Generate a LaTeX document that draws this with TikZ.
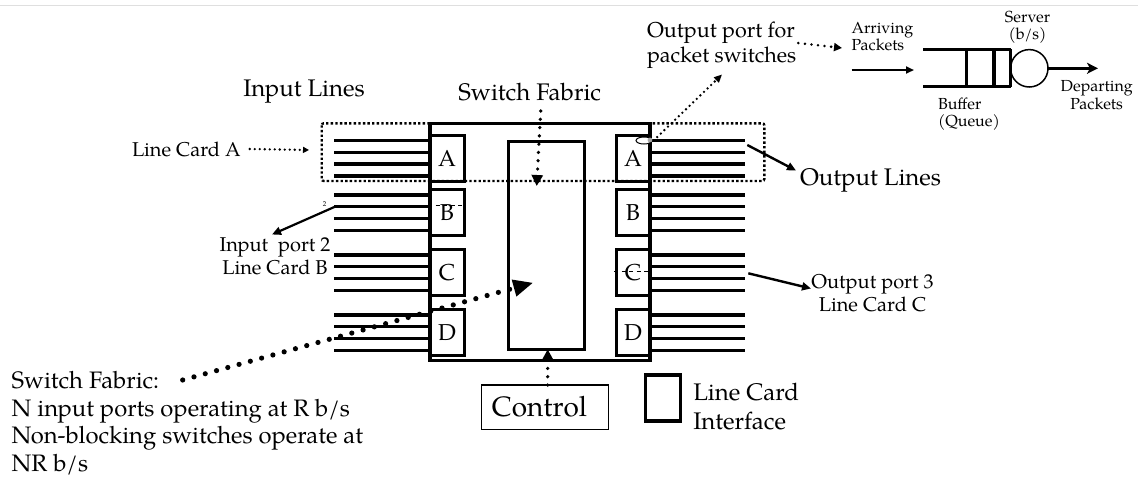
\documentclass[tikz,border=0pt]{standalone}
\usepackage{fontspec}
\setmainfont{texgyrepagella-regular.otf}
\usetikzlibrary{arrows.meta,shapes.geometric}
\newcommand\fsz[2]{\fontsize{#1}{#2}\selectfont}
\begin{document}
\begin{tikzpicture}[x=1pt,y=-1pt,
  every node/.style={inner sep=0pt, outer sep=0pt},
  frame/.style={draw, line width=3.3pt},
  card/.style={draw, line width=3pt, minimum width=34pt, minimum height=46pt, font=\fsz{23}{27}},
  wire/.style={line width=3.4pt},
  finedots/.style={line width=2.4pt, dash pattern=on 2.4pt off 2.2pt},
  smalldots/.style={line width=2.6pt, line cap=round, dash pattern=on 0pt off 5pt},
  middots/.style={line width=3.6pt, line cap=round, dash pattern=on 0pt off 8.3pt},
  bigdots/.style={line width=5.2pt, line cap=round, dash pattern=on 0pt off 11.7pt},
  lbl/.style={font=\fsz{24}{28}},
  small/.style={font=\fsz{20}{23}},
  tiny/.style={font=\fsz{16}{17.5}},
  ptr/.style={line width=2.4pt, -{Triangle[length=9pt,width=8pt]}},
]
\useasboundingbox (0,0) rectangle (1138,483);
\draw[gray!25, line width=1pt] (0,5) -- (1138,5);

% switch body and fabric
\node[frame, minimum width=220pt, minimum height=237.4pt, anchor=north west] (sw) at (430,123.3) {};
\node[frame, minimum width=76pt, minimum height=207.6pt, anchor=north west] (fab) at (508.3,141.7) {};

% line card interfaces and their lines
\foreach \n/\t in {A/135,B/189.3,C/249.3,D/309.3}{
  \node[card, anchor=north west] (l\n) at (430,\t) {\n};
  \node[card, anchor=north east] (r\n) at (650,\t) {\n};
  \foreach \k in {0,1,2,3}{
    \pgfmathsetmacro\yy{\t+5.5+11.8*\k}
    \draw[wire] (334.3,\yy) -- (430,\yy);
    \draw[wire] (650,\yy) -- (745,\yy);
  }
}
\draw[line width=0.8pt, dash pattern=on 4pt off 3.5pt] (428,205.7) -- (462,205.7);
\draw[line width=0.8pt, dash pattern=on 4pt off 3.5pt] (614,271) -- (648,271);
\node[font=\fsz{7}{8}] (two) at (324.5,204) {2};

% line card A outline
\draw[finedots, rounded corners=2pt] (321.7,123.3) rectangle (764.3,181);

% output port marker
\node[ellipse, draw, fill=white, line width=1pt, minimum width=16pt, minimum height=7pt] (oport) at (644,140.5) {};
\fill[gray!70] (650,140) circle (2.4pt);

% labels
\node[lbl] (inl) at (304,92) {Input Lines};
\node[lbl] (sfl) at (529.7,91.7) {Switch Fabric};
\node[font=\fsz{21.5}{25}, align=left, anchor=west] (opl) at (647,45.5) {Output port for\\packet switches};
\node[lbl, anchor=west] (outl) at (800,180) {Output Lines};
\node[small, anchor=west] (lca) at (132,149) {Line Card A};
\node[small, align=center] (ip2) at (275,256.5) {Input\ \ port 2\\Line Card B};
\node[small, align=center] (op3) at (872.5,293.5) {Output port 3\\Line Card C};
\node[font=\fsz{23.8}{27.8}, align=left, anchor=north west] (sfn) at (11.7,371) {Switch Fabric:\\N input ports operating at R b/s\\Non-blocking switches operate at\\NR b/s};

% control and legend
\node[draw, line width=1.5pt, minimum width=126.6pt, minimum height=44.3pt, anchor=north west] (ctlbox) at (481.7,385) {};
\node[font=\fsz{28}{30}] (ctl) at (539.5,407) {Control};
\node[draw, line width=3.2pt, minimum width=35pt, minimum height=46pt, anchor=north west] (leg) at (645.7,375) {};
\node[font=\fsz{24}{29}, align=left, anchor=west] (legt) at (693.3,406.3) {Line Card\\Interface};

% queue
\draw[line width=3.2pt] (923.3,49.3) -- (1010.7,49.3) (923.3,86.7) -- (1010.7,86.7);
\draw[line width=3.2pt] (966.7,49.3) -- (966.7,86.7) (994,49.3) -- (994,86.7) (1010.7,49.3) -- (1010.7,86.7);
\node[draw, circle, line width=1.5pt, minimum size=37.4pt] (srv) at (1029.3,68.3) {};
\node[tiny, align=left, anchor=west] (arr) at (851.7,36.5) {Arriving\\Packets};
\node[tiny, align=center] (srvl) at (1027.5,27.5) {Server\\(b/s)};
\node[tiny, align=left, anchor=west] (buf) at (938,114) {Buffer\\(Queue)};
\node[tiny, align=center] (dep) at (1096.7,95) {Departing\\Packets};

% connector end points
\coordinate (lcatip) at (309,150);
\coordinate (sfstart) at (540.7,111);
\coordinate (sftip) at (536.7,186);
\coordinate (fabtip) at (533.3,282.7);
\coordinate (fabstart) at (182.7,380);
\coordinate (ctltip) at (547.7,349.3);
\coordinate (optip) at (722,74.5);
\coordinate (arrtip) at (842,48);
\coordinate (inq) at (914,70);
\coordinate (deptip) at (1098,68.3);
\coordinate (ip2from) at (335,206.7);
\coordinate (ip2tip) at (272,234.5);
\coordinate (olfrom) at (747.3,145);
\coordinate (oltip) at (796,170.5);
\coordinate (op3from) at (748.3,273.3);
\coordinate (op3tip) at (811,288.5);

% connectors
\draw[smalldots, -{Triangle[length=6pt,width=6pt]}] ([xshift=9pt]lca.east) -- (lcatip);
\draw[middots, -{Triangle[length=11pt,width=11pt]}] (sfstart) -- (sftip);
\draw[bigdots, -{Triangle[length=20pt,width=16pt]}] (fabstart) -- (fabtip);
\draw[middots, -{Triangle[length=10pt,width=10pt]}] ([xshift=2.7pt]ctlbox.north) -- (ctltip);
\draw[smalldots, -{Triangle[length=8pt,width=7pt]}] ([xshift=6pt,yshift=-3.5pt]oport.center) -- (optip);
\draw[smalldots, line width=2.8pt, dash pattern=on 0pt off 6.6pt, -{Triangle[length=8pt,width=8pt]}] ([xshift=2pt,yshift=2.5pt]opl.east) -- (arrtip);
\draw[line width=2.2pt, -{Triangle[length=8pt,width=7pt]}] (851.7,70) -- (inq);
\draw[line width=3pt, -{Stealth[length=11pt,width=11pt,inset=3pt]}] (srv.east) -- (deptip);
\draw[ptr, line width=2.2pt] (ip2from) -- (ip2tip);
\draw[ptr] (olfrom) -- (oltip);
\draw[ptr] (op3from) -- (op3tip);
\end{tikzpicture}
\end{document}
